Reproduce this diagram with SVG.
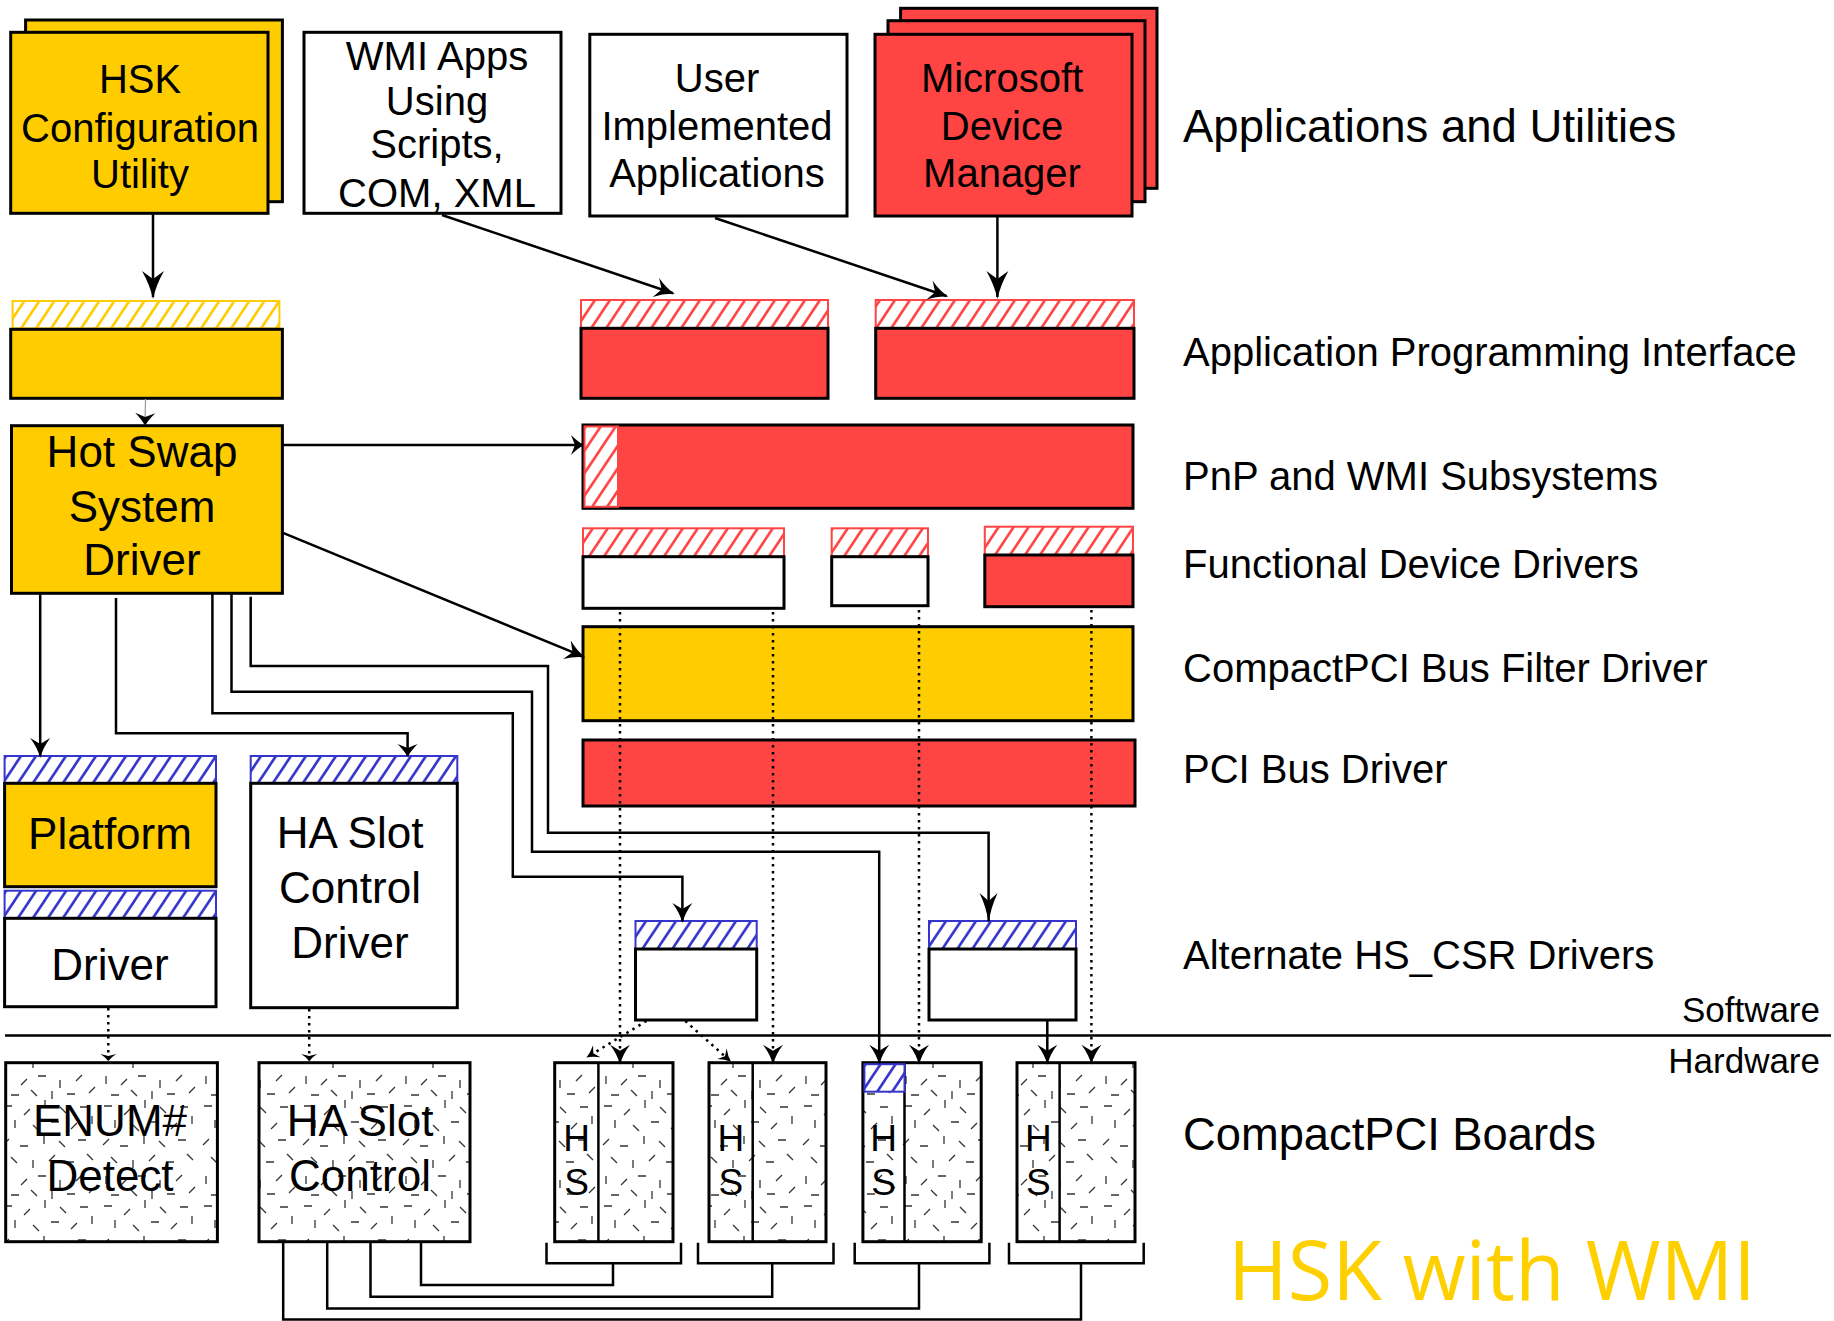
<svg xmlns="http://www.w3.org/2000/svg" width="1834" height="1321" viewBox="0 0 1834 1321">
  <style>
    .box{stroke:#000;stroke-width:3}
    .yel{fill:#FFCC00}
    .red{fill:#FF4444}
    .wht{fill:#fff}
    .hy{fill:url(#hatchY);stroke:#FFCC00;stroke-width:2}
    .hr{fill:url(#hatchR);stroke:#FF4444;stroke-width:2}
    .hb{fill:url(#hatchB);stroke:#3535CC;stroke-width:2}
    .sp{fill:url(#speck);stroke:#000;stroke-width:3}
    .conn{fill:none;stroke:#000;stroke-width:2.5}
    .dot{fill:none;stroke:#000;stroke-width:2.5;stroke-dasharray:2.5 4.5}
    .t{font-family:"Liberation Sans",Arial,Helvetica,sans-serif;fill:#000;text-anchor:middle}
    .l{font-family:"Liberation Sans",Arial,Helvetica,sans-serif;fill:#000}
    .f37{font-size:37px}
    .f40{font-size:40px}
    .f44{font-size:44px}
  </style>
  <defs>
    <pattern id="hatchY" patternUnits="userSpaceOnUse" width="15" height="22.5">
      <rect width="15" height="22.5" fill="#fff"/>
      <path d="M0,22.5 L15,0 M-2,3 L2,-3 M13,25.5 L17,19.5" stroke="#FFCC00" stroke-width="2.6"/>
    </pattern>
    <pattern id="hatchR" patternUnits="userSpaceOnUse" width="15" height="22.5">
      <rect width="15" height="22.5" fill="#fff"/>
      <path d="M0,22.5 L15,0 M-2,3 L2,-3 M13,25.5 L17,19.5" stroke="#FF4444" stroke-width="2.6"/>
    </pattern>
    <pattern id="hatchB" patternUnits="userSpaceOnUse" width="15" height="22.5">
      <rect width="15" height="22.5" fill="#fff"/>
      <path d="M0,22.5 L15,0 M-2,3 L2,-3 M13,25.5 L17,19.5" stroke="#3535CC" stroke-width="2.6"/>
    </pattern>
    <!-- scattered short strokes used for the hardware blocks -->
    <pattern id="speck" patternUnits="userSpaceOnUse" width="100" height="100">
      <rect width="100" height="100" fill="#fff"/>
      <path stroke="#333" stroke-width="1.3" fill="none" d="M4,6h8 M24,15l6,-6 M45,0v8 M60,7l6,6 M80,7h8 M15,20v8 M33,25l6,6 M51,22h8 M71,29l6,-6 M92,16v8 M3,45l6,-6 M20,46h8 M44,36v8 M59,41l6,6 M78,40h8 M11,57l6,6 M33,60v8 M49,61l6,-6 M66,62h8 M87,54l6,6 M6,76v8 M21,85l6,-6 M38,76h8 M60,80v8 M76,81l6,-6 M11,95h8 M31,90l6,6 M52,91v8 M67,94h8 M89,93l6,-6"/>
    </pattern>
    <marker id="aL" markerUnits="userSpaceOnUse" markerWidth="30" markerHeight="24" refX="26" refY="12" orient="auto" overflow="visible">
      <path d="M28,12 Q14,9 0,1 L8,12 L0,23 Q14,15 28,12 Z" fill="#000"/>
    </marker>
    <marker id="aN" markerUnits="userSpaceOnUse" markerWidth="32" markerHeight="20" refX="28" refY="9" orient="auto" overflow="visible">
      <path d="M30,9 Q15,7 0,0 L8,9 L0,18 Q15,11 30,9 Z" fill="#000"/>
    </marker>
    <marker id="aM" markerUnits="userSpaceOnUse" markerWidth="22" markerHeight="22" refX="18" refY="10" orient="auto" overflow="visible">
      <path d="M20,10 Q10,7.5 0,0 L6,10 L0,20 Q10,12.5 20,10 Z" fill="#000"/>
    </marker>
    <marker id="aS" markerUnits="userSpaceOnUse" markerWidth="15" markerHeight="22" refX="12" refY="10" orient="auto" overflow="visible">
      <path d="M13,10 Q7,7 0,0 L4,10 L0,20 Q7,13 13,10 Z" fill="#000"/>
    </marker>
    <marker id="aD" markerUnits="userSpaceOnUse" markerWidth="14" markerHeight="16" refX="11" refY="7" orient="auto" overflow="visible">
      <path d="M12,7 Q6,5 0,0 L4,7 L0,14 Q6,9 12,7 Z" fill="#000"/>
    </marker>
    <marker id="aT" markerUnits="userSpaceOnUse" markerWidth="9" markerHeight="18" refX="7" refY="8" orient="auto" overflow="visible">
      <path d="M7,8 Q3,5 0,0 L2,8 L0,16 Q3,11 7,8 Z" fill="#000"/>
    </marker>
  </defs>

  <rect width="1834" height="1321" fill="#fff"/>

  <!-- Applications and utilities -->
  <g id="hsk-config-utility">
    <rect class="box yel" x="25.6" y="20" width="256.8" height="181.7"/>
    <rect class="box yel" x="10.7" y="32.3" width="257.3" height="181"/>
    <text class="t f40" x="140" y="93.3">HSK</text>
    <text class="t f40" x="140" y="141.7">Configuration</text>
    <text class="t f40" x="140" y="188.3">Utility</text>
  </g>
  <g id="wmi-apps">
    <rect class="box wht" x="304" y="32.3" width="257" height="181"/>
    <text class="t f40" x="437" y="70">WMI Apps</text>
    <text class="t f40" x="437" y="115">Using</text>
    <text class="t f40" x="437" y="158.3">Scripts,</text>
    <text class="t f40" x="437" y="206.7">COM, XML</text>
  </g>
  <g id="user-apps">
    <rect class="box wht" x="589.8" y="34.3" width="257.2" height="181.7"/>
    <text class="t f40" x="717" y="91.7">User</text>
    <text class="t f40" x="717" y="140">Implemented</text>
    <text class="t f40" x="717" y="186.7">Applications</text>
  </g>
  <g id="ms-device-manager">
    <rect class="box red" x="900.6" y="8.3" width="256.4" height="180"/>
    <rect class="box red" x="888" y="20.7" width="257" height="181"/>
    <rect class="box red" x="875" y="34.3" width="257" height="181.7"/>
    <text class="t f40" x="1002" y="91.7">Microsoft</text>
    <text class="t f40" x="1002" y="140">Device</text>
    <text class="t f40" x="1002" y="186.7">Manager</text>
  </g>

  <!-- Application programming interfaces -->
  <g id="api-hsk">
    <rect class="hy" x="12.6" y="301" width="266.8" height="27.3"/>
    <rect class="box yel" x="10.7" y="329.3" width="271.7" height="69"/>
  </g>
  <g id="api-wmi">
    <rect class="hr" x="581" y="300" width="247" height="28.3"/>
    <rect class="box red" x="581" y="328.3" width="247" height="70"/>
  </g>
  <g id="api-pnp">
    <rect class="hr" x="875.7" y="300" width="258.3" height="28.3"/>
    <rect class="box red" x="875.7" y="328.3" width="258.3" height="70"/>
  </g>

  <!-- Drivers -->
  <g id="hot-swap-driver">
    <rect class="box yel" x="11.5" y="425.7" width="270.9" height="167.6"/>
    <text class="t f44" x="142" y="466.7">Hot Swap</text>
    <text class="t f44" x="142" y="521.7">System</text>
    <text class="t f44" x="142" y="575">Driver</text>
  </g>
  <g id="pnp-wmi">
    <rect class="box red" x="583" y="425" width="550" height="83.3"/>
    <rect class="hr" x="584.5" y="426.5" width="33.5" height="80.3"/>
  </g>
  <g id="fdd-1">
    <rect class="hr" x="583" y="528.3" width="201" height="28.4"/>
    <rect class="box wht" x="583" y="556.7" width="201" height="51.6"/>
  </g>
  <g id="fdd-2">
    <rect class="hr" x="831.7" y="528.3" width="96.3" height="28.4"/>
    <rect class="box wht" x="831.7" y="556.7" width="96.3" height="49"/>
  </g>
  <g id="fdd-3">
    <rect class="hr" x="984.8" y="526.7" width="148.2" height="28.3"/>
    <rect class="box red" x="984.8" y="555" width="148.2" height="51.7"/>
  </g>
  <g id="cpci-filter">
    <rect class="box yel" x="583" y="626.7" width="550" height="94"/>
  </g>
  <g id="pci-bus">
    <rect class="box red" x="583" y="740" width="552" height="66"/>
  </g>
  <g id="platform-driver">
    <rect class="hb" x="4.6" y="756" width="211.4" height="27.3"/>
    <rect class="box yel" x="4.6" y="783.3" width="211.4" height="103.4"/>
    <rect class="hb" x="4.6" y="890.7" width="211.4" height="27.6"/>
    <rect class="box wht" x="4.6" y="918.3" width="211.4" height="88.4"/>
    <text class="t f44" x="110" y="849">Platform</text>
    <text class="t f44" x="110" y="980">Driver</text>
  </g>
  <g id="ha-slot-driver">
    <rect class="hb" x="250.7" y="756" width="206.6" height="27.3"/>
    <rect class="box wht" x="250.7" y="783.3" width="206.6" height="224.4"/>
    <text class="t f44" x="350" y="848">HA Slot</text>
    <text class="t f44" x="350" y="903.3">Control</text>
    <text class="t f44" x="350" y="958.3">Driver</text>
  </g>
  <g id="alt-csr-1">
    <rect class="hb" x="635.5" y="921" width="121.2" height="28"/>
    <rect class="box wht" x="635.5" y="949" width="121.2" height="71"/>
  </g>
  <g id="alt-csr-2">
    <rect class="hb" x="929" y="921" width="147" height="28"/>
    <rect class="box wht" x="929" y="949" width="147" height="71"/>
  </g>

  <!-- Hardware -->
  <g id="enum-detect">
    <rect class="sp" x="5.7" y="1062.7" width="211.7" height="179"/>
    <text class="t f44" x="110" y="1136">ENUM#</text>
    <text class="t f44" x="110" y="1190.7">Detect</text>
  </g>
  <g id="ha-slot-control">
    <rect class="sp" x="259" y="1062.7" width="211" height="179"/>
    <text class="t f44" x="360" y="1136">HA Slot</text>
    <text class="t f44" x="360" y="1190.7">Control</text>
  </g>
  <g id="board-1">
    <rect class="sp" x="554.7" y="1062.7" width="118.3" height="179"/>
    <line class="conn" x1="598.4" y1="1062.7" x2="598.4" y2="1241.7"/>
    <text class="t f37" x="576.5" y="1151">H</text>
    <text class="t f37" x="576.5" y="1194.5">S</text>
  </g>
  <g id="board-2">
    <rect class="sp" x="709" y="1062.7" width="117" height="179"/>
    <line class="conn" x1="752.7" y1="1062.7" x2="752.7" y2="1241.7"/>
    <text class="t f37" x="730.9" y="1151">H</text>
    <text class="t f37" x="730.9" y="1194.5">S</text>
  </g>
  <g id="board-3">
    <rect class="sp" x="862.9" y="1062.7" width="118.3" height="179"/>
    <line class="conn" x1="904.5" y1="1062.7" x2="904.5" y2="1241.7"/>
    <rect class="hb" x="864.4" y="1064.2" width="40.1" height="27.5"/>
    <text class="t f37" x="883.7" y="1151">H</text>
    <text class="t f37" x="883.7" y="1194.5">S</text>
  </g>
  <g id="board-4">
    <rect class="sp" x="1017" y="1062.7" width="118" height="179"/>
    <line class="conn" x1="1059.6" y1="1062.7" x2="1059.6" y2="1241.7"/>
    <text class="t f37" x="1038.3" y="1151">H</text>
    <text class="t f37" x="1038.3" y="1194.5">S</text>
  </g>

  <!-- Layer labels -->
  <g id="layer-labels">
    <text class="l" x="1183" y="141.7" font-size="45.5">Applications and Utilities</text>
    <text class="l" x="1183" y="366" font-size="40">Application Programming Interface</text>
    <text class="l" x="1183" y="490" font-size="40">PnP and WMI Subsystems</text>
    <text class="l" x="1183" y="578.3" font-size="40">Functional Device Drivers</text>
    <text class="l" x="1183" y="681.7" font-size="40">CompactPCI Bus Filter Driver</text>
    <text class="l" x="1183" y="783.3" font-size="40">PCI Bus Driver</text>
    <text class="l" x="1183" y="969.3" font-size="40">Alternate HS_CSR Drivers</text>
    <text class="l" x="1820" y="1021.7" font-size="35" text-anchor="end">Software</text>
    <text class="l" x="1820" y="1072.7" font-size="35" text-anchor="end">Hardware</text>
    <text class="l" x="1183" y="1150" font-size="45.3">CompactPCI Boards</text>
  </g>
  <text x="1228" y="1299.5" font-family="'Open Sans','Liberation Sans',sans-serif" font-size="83" fill="#FFD000" textLength="528" lengthAdjust="spacingAndGlyphs">HSK with WMI</text>

  <!-- Connectors -->
  <g id="connectors">
    <line x1="5" y1="1035.5" x2="1831" y2="1035.5" stroke="#000" stroke-width="2.5"/>
    <path class="conn" d="M153,213.3 V297" marker-end="url(#aL)"/>
    <path class="conn" d="M442,215 L673,293.3" marker-end="url(#aM)"/>
    <path class="conn" d="M715,218 L946.5,296" marker-end="url(#aM)"/>
    <path class="conn" d="M997.4,216 V297" marker-end="url(#aL)"/>
    <path fill="none" stroke="#999" stroke-width="1.2" d="M145.5,399 L145,425" marker-end="url(#aS)"/>
    <path class="conn" d="M282.4,445 H583" marker-end="url(#aS)"/>
    <path class="conn" d="M282.4,532.7 L583.6,656.7" marker-end="url(#aM)"/>
    <path class="conn" d="M40.2,593.3 V756" marker-end="url(#aM)"/>
    <path class="conn" d="M116,598 V733.3 H407.6 V756" marker-end="url(#aS)"/>
    <path class="conn" d="M212.4,593.3 V713.3 H512.8 V876.7 H682.4 V921" marker-end="url(#aM)"/>
    <path class="conn" d="M231.5,593.3 V691.7 H532 V851.7 H879.2 V1062.7" marker-end="url(#aM)"/>
    <path class="conn" d="M250.7,596.7 V666 H548 V832.7 H988.6 V921" marker-end="url(#aN)"/>
    <path class="dot" d="M620,612 V1062.7" marker-end="url(#aM)"/>
    <path class="dot" d="M773,612 V1062.7" marker-end="url(#aM)"/>
    <path class="dot" d="M919,610 V1062.7" marker-end="url(#aM)"/>
    <path class="dot" d="M1091.4,610 V1062.7" marker-end="url(#aM)"/>
    <path class="dot" d="M108.3,1008 V1061" marker-end="url(#aT)"/>
    <path class="dot" d="M309.2,1009 V1061" marker-end="url(#aT)"/>
    <path class="dot" d="M646.5,1021 L587.3,1057" marker-end="url(#aD)"/>
    <path class="dot" d="M685.3,1021 L730.2,1061" marker-end="url(#aD)"/>
    <path class="conn" d="M1047.3,1020 V1062.7" marker-end="url(#aM)"/>
    <path class="conn" d="M546.5,1242.7 V1263.3 H681 V1242.7 M698,1242.7 V1263.3 H833.5 V1242.7 M854.7,1242.7 V1263.3 H989.4 V1242.7 M1009,1242.7 V1263.3 H1143.7 V1242.7"/>
    <path class="conn" d="M421,1243 V1285 H613 V1263.3"/>
    <path class="conn" d="M370.5,1243 V1296.7 H772.2 V1263.3"/>
    <path class="conn" d="M327.2,1243 V1308.5 H919 V1263.3"/>
    <path class="conn" d="M283.2,1243 V1319.5 H1081 V1263.3"/>
  </g>
</svg>
